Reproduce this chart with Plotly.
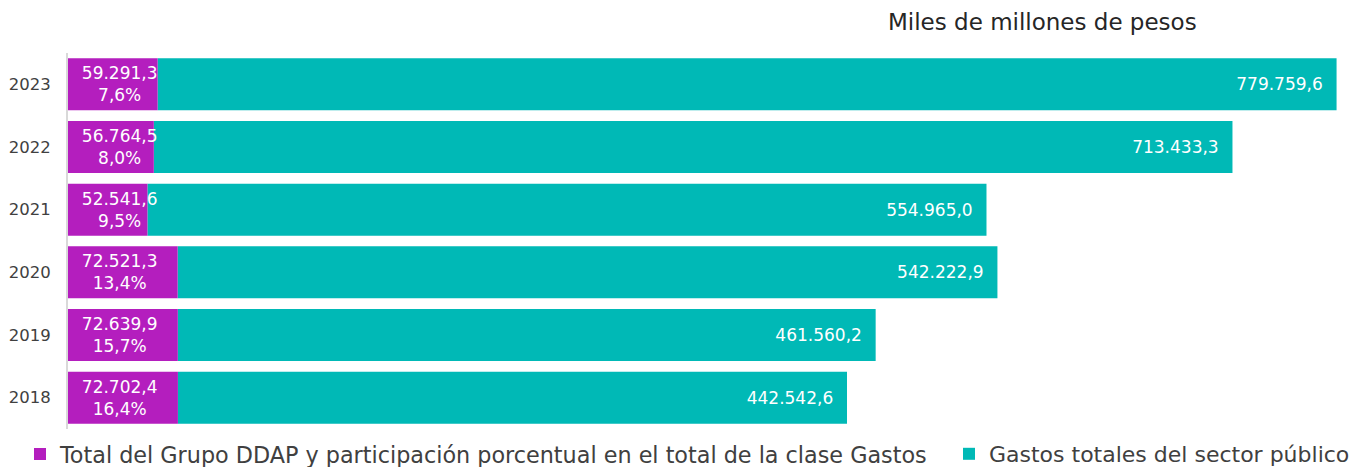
import plotly.graph_objects as go

years = ["2018", "2019", "2020", "2021", "2022", "2023"]
ddap = [72702.4, 72639.9, 72521.3, 52541.6, 56764.5, 59291.3]
ddap_pct = [16.4, 15.7, 13.4, 9.5, 8.0, 7.6]
gastos = [442542.6, 461560.2, 542222.9, 554965.0, 713433.3, 779759.6]

name_ddap = "Total del Grupo DDAP y participación porcentual en el total de la clase Gastos"
name_gastos = "Gastos totales del sector público"
title_text = "Miles de millones de pesos"

MAGENTA = "#B41EBE"
CYAN = "#00B9B6"
FONT = "DejaVu Sans"
PAD = "\u00a0\u00a0"

fig = go.Figure()
# Gastos totales drawn first, starting where the DDAP segment ends (stacked look),
# so the DDAP labels are drawn on top of it.
fig.add_trace(go.Bar(
    y=years, x=gastos, base=ddap, orientation="h", name=name_gastos,
    marker=dict(color=CYAN, line=dict(width=0)),
    texttemplate="%{x:,.1f}" + PAD,
    textposition="inside", insidetextanchor="end", constraintext="none",
    textangle=0,
    textfont=dict(family=FONT, size=17, color="white"),
    legend="legend2", hoverinfo="skip",
))
fig.add_trace(go.Bar(
    y=years, x=ddap, orientation="h", name=name_ddap,
    marker=dict(color=MAGENTA, line=dict(width=0)),
    customdata=ddap_pct,
    texttemplate=PAD + "%{x:,.1f}<br>" + PAD + "%{customdata:.1f}%",
    textposition="inside", insidetextanchor="start", constraintext="none",
    textangle=0,
    textfont=dict(family=FONT, size=17, color="white"),
    legend="legend", hoverinfo="skip",
))

fig.update_layout(
    barmode="overlay",
    bargap=0.17,
    width=1366, height=467,
    margin=dict(l=68, r=28, t=53, b=38, autoexpand=False),
    paper_bgcolor="white", plot_bgcolor="white",
    separators=",.",
    font=dict(family=FONT, color="#404040"),
    xaxis=dict(range=[0, 840000], visible=False, showgrid=False, zeroline=False),
    yaxis=dict(
        type="category", categoryorder="array", categoryarray=years,
        showline=True, linecolor="#D9D9D9", linewidth=2,
        showgrid=False, ticks="", ticklabelstandoff=12, automargin=False,
        tickfont=dict(family=FONT, size=16.5, color="#404040"),
    ),
    legend=dict(
        orientation="h", x=20 / 1366, xanchor="left", xref="container",
        y=(467 - 454) / 467, yanchor="middle", yref="container",
        font=dict(family=FONT, size=22.3, color="#404040"),
        bgcolor="rgba(0,0,0,0)", itemclick=False,
    ),
    legend2=dict(
        orientation="h", x=(972 - 23) / 1366, xanchor="left", xref="container",
        y=(467 - 454) / 467, yanchor="middle", yref="container",
        font=dict(family=FONT, size=22, color="#404040"),
        bgcolor="rgba(0,0,0,0)", itemclick=False,
    ),
    showlegend=True,
    annotations=[dict(
        text=title_text, xref="paper", yref="paper",
        x=(886 - 68) / 1270, y=1 + (53 - 22) / 376, xanchor="left", yanchor="middle",
        showarrow=False, font=dict(family=FONT, size=23, color="#262626"),
    )],
)

fig.write_html(
    "out.html",
    config={"displayModeBar": False},
    post_script="document.body.style.margin='0';",
)
